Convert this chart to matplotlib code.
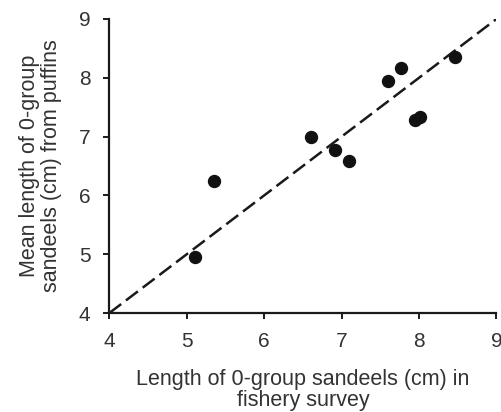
import matplotlib.pyplot as plt

plt.rcParams['font.family'] = ['Liberation Sans', 'DejaVu Sans']

# fishery survey length vs puffin-delivered length (cm)
survey_len = [5.11, 5.35, 6.60, 6.92, 7.10, 7.60, 7.77, 7.95, 8.01, 8.47]
puffin_len = [4.95, 6.25, 6.99, 6.78, 6.59, 7.94, 8.17, 7.28, 7.33, 8.36]
ticks = [4, 5, 6, 7, 8, 9]
text_col = '#333333'

fig = plt.figure(figsize=(5.01, 4.12), dpi=100)
ax = fig.add_axes([0.218, 0.240, 0.773, 0.714])

# 1:1 line
ax.plot([4, 9], [4, 9], ls=(0, (6, 2.4)), color='#1a1a1a', lw=1.8, zorder=2)
ax.plot(survey_len, puffin_len, 'o', color='#111111', ms=8.6, zorder=3)

ax.set_xlim(4, 9)
ax.set_ylim(4, 9)
ax.set_xticks(ticks)
ax.set_yticks(ticks)
for s in ['top', 'right']:
    ax.spines[s].set_visible(False)
for s in ['left', 'bottom']:
    ax.spines[s].set_linewidth(1.6)
    ax.spines[s].set_color('#1a1a1a')
ax.tick_params(direction='out', length=4.5, width=1.4, labelsize=15,
               labelcolor=text_col, color='#1a1a1a')
ax.tick_params(axis='x', pad=9)
ax.tick_params(axis='y', pad=9)

ax.set_xlabel('Length of 0-group sandeels (cm) in\nfishery survey',
              fontsize=15.5, color=text_col, labelpad=13, linespacing=1.0)
ax.set_ylabel('Mean length of 0-group\nsandeels (cm) from puffins',
              fontsize=15.5, color=text_col, labelpad=12, linespacing=1.05)

fig.savefig('out.png', dpi=100)
